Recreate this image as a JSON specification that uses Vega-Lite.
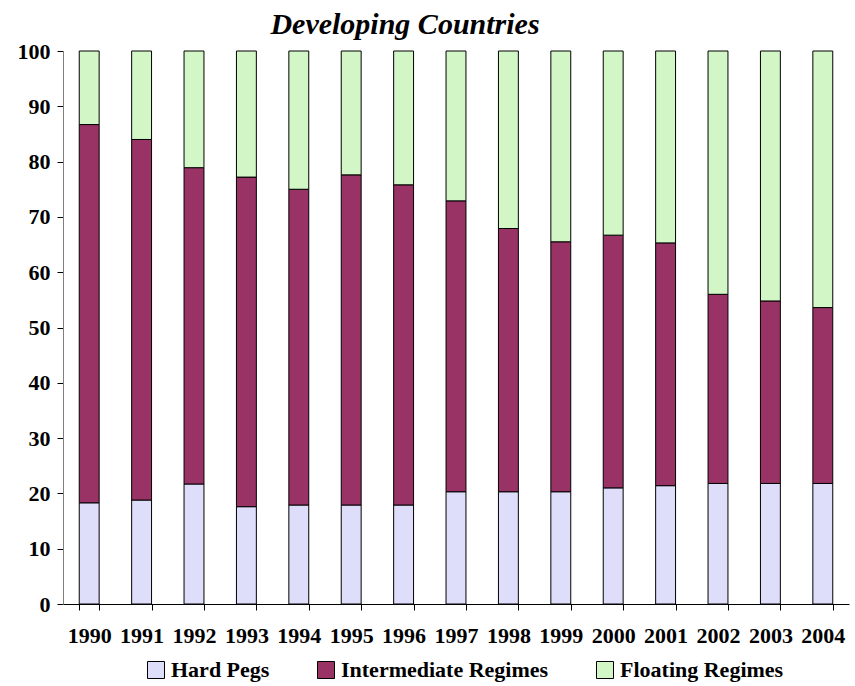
{
  "$schema": "https://vega.github.io/schema/vega-lite/v6.json",
  "width": 786,
  "height": 553,
  "autosize": "none",
  "padding": {"left": 63, "top": 51, "right": 6, "bottom": 82},
  "background": "white",
  "title": {
    "text": "Developing Countries",
    "font": "Liberation Serif",
    "fontSize": 30,
    "fontStyle": "italic",
    "fontWeight": "bold",
    "color": "black",
    "anchor": "middle",
    "baseline": "alphabetic",
    "dx": -51,
    "offset": -24
  },
  "data": {
    "values": [
      {"year": "1990", "regime": "Hard Pegs", "value": 18.3},
      {"year": "1991", "regime": "Hard Pegs", "value": 18.8},
      {"year": "1992", "regime": "Hard Pegs", "value": 21.7},
      {"year": "1993", "regime": "Hard Pegs", "value": 17.6},
      {"year": "1994", "regime": "Hard Pegs", "value": 17.9},
      {"year": "1995", "regime": "Hard Pegs", "value": 17.9},
      {"year": "1996", "regime": "Hard Pegs", "value": 17.9},
      {"year": "1997", "regime": "Hard Pegs", "value": 20.3},
      {"year": "1998", "regime": "Hard Pegs", "value": 20.3},
      {"year": "1999", "regime": "Hard Pegs", "value": 20.3},
      {"year": "2000", "regime": "Hard Pegs", "value": 21.0},
      {"year": "2001", "regime": "Hard Pegs", "value": 21.4},
      {"year": "2002", "regime": "Hard Pegs", "value": 21.8},
      {"year": "2003", "regime": "Hard Pegs", "value": 21.8},
      {"year": "2004", "regime": "Hard Pegs", "value": 21.8},
      {"year": "1990", "regime": "Intermediate Regimes", "value": 68.4},
      {"year": "1991", "regime": "Intermediate Regimes", "value": 65.2},
      {"year": "1992", "regime": "Intermediate Regimes", "value": 57.2},
      {"year": "1993", "regime": "Intermediate Regimes", "value": 59.6},
      {"year": "1994", "regime": "Intermediate Regimes", "value": 57.1},
      {"year": "1995", "regime": "Intermediate Regimes", "value": 59.7},
      {"year": "1996", "regime": "Intermediate Regimes", "value": 57.9},
      {"year": "1997", "regime": "Intermediate Regimes", "value": 52.6},
      {"year": "1998", "regime": "Intermediate Regimes", "value": 47.6},
      {"year": "1999", "regime": "Intermediate Regimes", "value": 45.2},
      {"year": "2000", "regime": "Intermediate Regimes", "value": 45.7},
      {"year": "2001", "regime": "Intermediate Regimes", "value": 43.9},
      {"year": "2002", "regime": "Intermediate Regimes", "value": 34.2},
      {"year": "2003", "regime": "Intermediate Regimes", "value": 33.0},
      {"year": "2004", "regime": "Intermediate Regimes", "value": 31.8},
      {"year": "1990", "regime": "Floating Regimes", "value": 13.3},
      {"year": "1991", "regime": "Floating Regimes", "value": 16.0},
      {"year": "1992", "regime": "Floating Regimes", "value": 21.1},
      {"year": "1993", "regime": "Floating Regimes", "value": 22.8},
      {"year": "1994", "regime": "Floating Regimes", "value": 25.0},
      {"year": "1995", "regime": "Floating Regimes", "value": 22.4},
      {"year": "1996", "regime": "Floating Regimes", "value": 24.2},
      {"year": "1997", "regime": "Floating Regimes", "value": 27.1},
      {"year": "1998", "regime": "Floating Regimes", "value": 32.1},
      {"year": "1999", "regime": "Floating Regimes", "value": 34.5},
      {"year": "2000", "regime": "Floating Regimes", "value": 33.3},
      {"year": "2001", "regime": "Floating Regimes", "value": 34.7},
      {"year": "2002", "regime": "Floating Regimes", "value": 44.0},
      {"year": "2003", "regime": "Floating Regimes", "value": 45.2},
      {"year": "2004", "regime": "Floating Regimes", "value": 46.4}
    ]
  },
  "transform": [
    {"calculate": "indexof(['Hard Pegs','Intermediate Regimes','Floating Regimes'], datum.regime)", "as": "order"}
  ],
  "mark": {"type": "bar", "stroke": "black", "strokeWidth": 1},
  "encoding": {
    "x": {
      "field": "year",
      "type": "ordinal",
      "title": null,
      "scale": {"paddingInner": 0.62, "paddingOuter": 0.31},
      "axis": {
        "labelAngle": 0,
        "labelFont": "Liberation Serif",
        "labelFontSize": 22,
        "labelFontWeight": "bold",
        "labelColor": "black",
        "labelPadding": 15,
        "tickBand": "extent",
        "tickSize": 6,
        "tickColor": "black",
        "domainColor": "black"
      }
    },
    "y": {
      "field": "value",
      "type": "quantitative",
      "stack": "zero",
      "title": null,
      "scale": {"domain": [0, 100], "nice": false},
      "axis": {
        "values": [0, 10, 20, 30, 40, 50, 60, 70, 80, 90, 100],
        "grid": false,
        "labelFont": "Liberation Serif",
        "labelFontSize": 22,
        "labelFontWeight": "bold",
        "labelColor": "black",
        "labelPadding": 7,
        "tickSize": 6,
        "tickColor": "black",
        "domainColor": "#808080"
      }
    },
    "color": {
      "field": "regime",
      "type": "nominal",
      "sort": ["Hard Pegs", "Intermediate Regimes", "Floating Regimes"],
      "scale": {
        "domain": ["Hard Pegs", "Intermediate Regimes", "Floating Regimes"],
        "range": ["#dedefa", "#993366", "#d2f6c6"]
      },
      "legend": {
        "title": null,
        "orient": "none",
        "legendX": 82,
        "legendY": 608,
        "direction": "horizontal",
        "symbolType": "square",
        "symbolSize": 289,
        "symbolStrokeColor": "black",
        "symbolStrokeWidth": 1,
        "labelFont": "Liberation Serif",
        "labelFontSize": 22,
        "labelFontWeight": "bold",
        "labelColor": "black",
        "labelLimit": 400,
        "labelOffset": 4,
        "columnPadding": 45
      }
    },
    "order": {"field": "order", "type": "quantitative"}
  },
  "config": {"view": {"stroke": null}}
}
